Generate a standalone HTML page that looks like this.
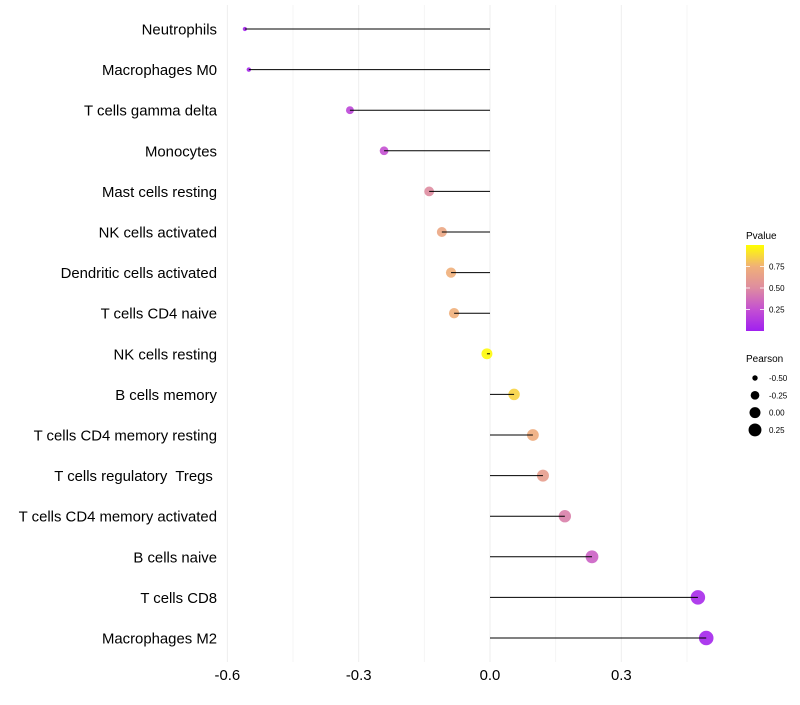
<!DOCTYPE html>
<html><head><meta charset="utf-8"><style>
body{margin:0;background:#fff;font-family:"Liberation Sans",sans-serif}
text{white-space:pre}
</style></head><body>
<svg id="chart" width="800" height="700" xmlns="http://www.w3.org/2000/svg"></svg>
<script>
const categories=["Neutrophils","Macrophages M0","T cells gamma delta","Monocytes","Mast cells resting","NK cells activated","Dendritic cells activated","T cells CD4 naive","NK cells resting","B cells memory","T cells CD4 memory resting","T cells regulatory  Tregs ","T cells CD4 memory activated","B cells naive","T cells CD8","Macrophages M2"];
const pearson=[-0.56,-0.551,-0.32,-0.242,-0.139,-0.110,-0.089,-0.082,-0.007,0.055,0.098,0.121,0.171,0.233,0.475,0.494];
const pvalue=[0.03,0.04,0.2,0.25,0.5,0.68,0.74,0.74,0.98,0.86,0.72,0.62,0.45,0.32,0.05,0.03];
const xTicks=[-0.6,-0.3,0.0,0.3];
const xTickLabels=["-0.6","-0.3","0.0","0.3"];
const minorTicks=[-0.45,-0.15,0.15,0.45];
const pLegendTicks=[0.25,0.5,0.75];
const sizeLegend=[-0.5,-0.25,0.0,0.25];

const svg=document.getElementById('chart');
const NS="http://www.w3.org/2000/svg";
const x=v=>490+v*437.7;
const y=i=>29+i*40.6;
const r=v=>Math.sqrt(4.5+Math.max(0,v+0.56)*46);
const pY=p=>331-p*86;
const stops=[[0,[160,32,240]],[0.25,[196,80,210]],[0.5,[222,140,160]],[0.75,[240,176,120]],[1,[255,255,0]]];
function color(p){for(let k=1;k<stops.length;k++){if(p<=stops[k][0]){const a=stops[k-1],b=stops[k];const t=(p-a[0])/(b[0]-a[0]);return 'rgb('+a[1].map((c,j)=>Math.round(c+(b[1][j]-c)*t)).join(',')+')';}}return 'rgb(255,255,0)';}
function el(t,a,txt){const e=document.createElementNS(NS,t);for(const k in a)e.setAttribute(k,a[k]);if(txt!==undefined)e.textContent=txt;svg.appendChild(e);return e;}

minorTicks.forEach(v=>{const g=el('line',{x1:x(v),x2:x(v),y1:5,y2:662,stroke:'#f4f4f4','stroke-width':1});

});
xTicks.forEach((v,i)=>{const g=el('line',{x1:x(v),x2:x(v),y1:5,y2:662,stroke:'#eeeeee','stroke-width':1});


const t=el('text',{x:x(v),y:680,'text-anchor':'middle','font-size':14.9,fill:'#000'},xTickLabels[i]);

});

categories.forEach((c,i)=>{
const t=el('text',{x:217,y:y(i)+5.5,'text-anchor':'end','font-size':14.9,fill:'#000'},c);


const d=el('circle',{cx:x(pearson[i]),cy:y(i),r:r(pearson[i]),fill:color(pvalue[i]),'fill-opacity':0.9});


const l=el('line',{x1:x(0),x2:x(pearson[i]),y1:y(i),y2:y(i),stroke:'#000','stroke-width':1});


});

const lt=el('text',{x:746,y:239,'font-size':10,fill:'#000'},'Pvalue');


const defs=el('defs',{});
const lg=document.createElementNS(NS,'linearGradient');
lg.setAttribute('id','pg');lg.setAttribute('x1','0');lg.setAttribute('y1','1');lg.setAttribute('x2','0');lg.setAttribute('y2','0');
[0,0.125,0.25,0.375,0.5,0.625,0.75,0.875,1].forEach(p=>{const s=document.createElementNS(NS,'stop');s.setAttribute('offset',p);s.setAttribute('stop-color',color(p));lg.appendChild(s);});
defs.appendChild(lg);
const bar=el('rect',{x:746,y:245,width:18,height:86,fill:'url(#pg)'});


pLegendTicks.forEach(p=>{
el('line',{x1:746,x2:750,y1:pY(p),y2:pY(p),stroke:'#fff','stroke-width':0.8});
el('line',{x1:760,x2:764,y1:pY(p),y2:pY(p),stroke:'#fff','stroke-width':0.8});
const t=el('text',{x:769,y:pY(p)+3,'font-size':8,fill:'#000'},p.toFixed(2));

});

const st=el('text',{x:746,y:362,'font-size':10,fill:'#000'},'Pearson');


sizeLegend.forEach((v,i)=>{const cy=378+i*17.3;
const c=el('circle',{cx:755,cy:cy,r:r(v),fill:'#000'});


const t=el('text',{x:769,y:cy+3,'font-size':8,fill:'#000'},v.toFixed(2));

});
</script>
</body></html>
